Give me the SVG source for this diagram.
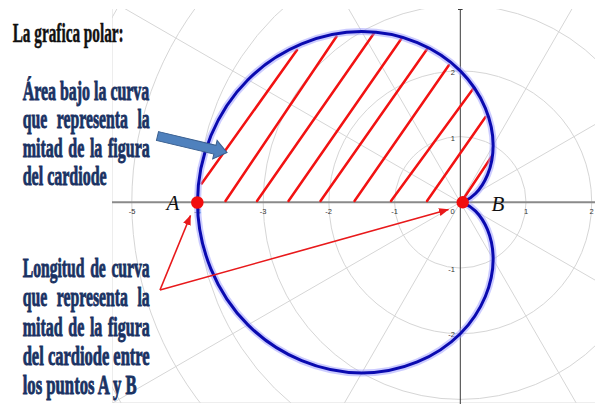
<svg xmlns="http://www.w3.org/2000/svg" width="595" height="406" viewBox="0 0 595 406">
<defs>
<clipPath id="plot"><rect x="112" y="9" width="483" height="394"/></clipPath>
<marker id="redHead" markerUnits="userSpaceOnUse" markerWidth="10" markerHeight="8" viewBox="0 0 10 8" refX="9.5" refY="4" orient="auto"><path d="M0,0 L10,4 L0,8 Z" fill="#e8191b"/></marker>
</defs>
<style>
.grid{fill:none;stroke:#d6d6d6;stroke-width:1}
.frame{stroke:#dcdcdc;stroke-width:1}
.tick{font-family:"Liberation Sans",Arial,sans-serif;font-size:7.5px;fill:#333}
.hatch line{stroke:#f21212;stroke-width:2.5;stroke-linecap:round}
.note{font-family:"Liberation Serif","Times New Roman",serif;font-weight:bold;font-size:27.5px;fill:#1a3263;stroke:#1a3263;stroke-width:0.9}
.title{font-family:"Liberation Serif","Times New Roman",serif;font-weight:bold;font-size:27px;fill:#111;stroke:#111;stroke-width:0.5}
.pt{fill:#f20d0d}
.ptlabel{font-family:"Liberation Serif","Times New Roman",serif;font-style:italic;font-size:21px;fill:#111}
.redarrow{stroke:#e8191b;stroke-width:1.6;fill:none}
</style>
<rect x="0" y="0" width="595" height="406" fill="#fff"/>

<g id="polar-grid" clip-path="url(#plot)">
  <g class="grid">
    <circle cx="460.3" cy="202.3" r="65.7"/>
    <circle cx="460.3" cy="202.3" r="131.4"/>
    <circle cx="460.3" cy="202.3" r="197.1"/>
    <circle cx="460.3" cy="202.3" r="262.8"/>
    <circle cx="460.3" cy="202.3" r="328.5"/>
    <circle cx="460.3" cy="202.3" r="394.2"/>
    <line x1="1066.5" y1="-147.7" x2="-145.9" y2="552.3"/>
    <line x1="810.3" y1="-403.9" x2="110.3" y2="808.5"/>
    <line x1="110.3" y1="-403.9" x2="810.3" y2="808.5"/>
    <line x1="-145.9" y1="-147.7" x2="1066.5" y2="552.3"/>
  </g>
  <line class="frame" x1="112" y1="9" x2="112" y2="403"/>
  <line class="frame" x1="112" y1="403" x2="595" y2="403"/>
</g>

<g id="axes">
  <line x1="112" y1="202.3" x2="595" y2="202.3" stroke="#8a8a8a" stroke-width="2"/>
  <line x1="460.3" y1="9" x2="460.3" y2="404" stroke="#3a3a3a" stroke-width="1"/>
  <line x1="458" y1="9.5" x2="462.6" y2="9.5" stroke="#3a3a3a" stroke-width="1"/>
  <g class="tick" text-anchor="middle">
    <text x="132" y="213.5">-5</text>
    <text x="197.5" y="213.5">-4</text>
    <text x="263" y="213.5">-3</text>
    <text x="328.7" y="213.5">-2</text>
    <text x="394.6" y="213.5">-1</text>
    <text x="452.5" y="213.5">0</text>
    <text x="526" y="213.5">1</text>
    <text x="591.5" y="213.5">2</text>
  </g>
  <g class="tick" text-anchor="end">
    <text x="455" y="75">2</text>
    <text x="455" y="140.5">1</text>
    <text x="455" y="272">-1</text>
    <text x="455" y="337">-2</text>
  </g>
</g>

<g id="area-hatch" class="hatch">
  <line x1="201.7" y1="183.5" x2="297" y2="50"/>
  <line x1="225.5" y1="201" x2="336.5" y2="36.5"/>
  <line x1="257" y1="201" x2="374.5" y2="32.5"/>
  <line x1="288.5" y1="201" x2="401.5" y2="38.5"/>
  <line x1="320.5" y1="201" x2="427.5" y2="48.5"/>
  <line x1="354.5" y1="201" x2="449" y2="65"/>
  <line x1="391" y1="201" x2="473" y2="89"/>
  <line x1="427" y1="201" x2="485.5" y2="117"/>
  <line x1="462" y1="201" x2="492" y2="156"/>
</g>

<g id="cardioid" fill="none">
  <path stroke="#9a9aff" stroke-opacity="0.5" stroke-width="7" d="M460.3,202.3 C460.3,202.3 467.15,201.89 475.55,193.5 C483.94,185.1 493.15,168.34 493.15,145.4 C493.15,122.47 483.23,93.83 460.3,70.9 C437.37,47.97 401.47,31.61 361.75,31.61 C322.03,31.61 279.28,48.37 247.95,79.7 C216.62,111.03 197.5,156.43 197.5,202.3 C197.5,248.17 216.62,293.57 247.95,324.9 C279.28,356.23 322.03,372.99 361.75,372.99 C401.47,372.99 437.37,356.63 460.3,333.7 C483.23,310.77 493.15,282.13 493.15,259.2 C493.15,236.26 483.94,219.5 475.55,211.1 C467.15,202.71 460.3,202.3 460.3,202.3"/>
  <path stroke="#0a0ab0" stroke-width="3" d="M460.3,202.3 C460.3,202.3 467.15,201.89 475.55,193.5 C483.94,185.1 493.15,168.34 493.15,145.4 C493.15,122.47 483.23,93.83 460.3,70.9 C437.37,47.97 401.47,31.61 361.75,31.61 C322.03,31.61 279.28,48.37 247.95,79.7 C216.62,111.03 197.5,156.43 197.5,202.3 C197.5,248.17 216.62,293.57 247.95,324.9 C279.28,356.23 322.03,372.99 361.75,372.99 C401.47,372.99 437.37,356.63 460.3,333.7 C483.23,310.77 493.15,282.13 493.15,259.2 C493.15,236.26 483.94,219.5 475.55,211.1 C467.15,202.71 460.3,202.3 460.3,202.3"/>
</g>

<g id="point-A">
  <circle class="pt" cx="197.3" cy="202.5" r="6.3"/>
  <text class="ptlabel" x="166.5" y="210">A</text>
</g>
<g id="point-B">
  <circle class="pt" cx="462.7" cy="202.3" r="6.2"/>
  <text class="ptlabel" x="491.5" y="211">B</text>
</g>

<g id="title">
  <text class="title" x="12.7" y="41.7" textLength="111" lengthAdjust="spacingAndGlyphs">La grafica polar:</text>
</g>

<g id="note-area">
  <text class="note" x="22.7" y="99.5" textLength="126.6" lengthAdjust="spacingAndGlyphs">Área bajo la curva</text>
  <text class="note" x="22.7" y="128" textLength="127" lengthAdjust="spacingAndGlyphs" word-spacing="10">que representa la</text>
  <text class="note" x="22.7" y="156.7" textLength="127" lengthAdjust="spacingAndGlyphs" word-spacing="3">mitad de la figura</text>
  <text class="note" x="22.7" y="185.3" textLength="84" lengthAdjust="spacingAndGlyphs">del cardiode</text>
</g>

<g id="note-length">
  <text class="note" x="22.7" y="277" textLength="127" lengthAdjust="spacingAndGlyphs" word-spacing="3">Longitud de curva</text>
  <text class="note" x="22.7" y="306.3" textLength="127" lengthAdjust="spacingAndGlyphs" word-spacing="10">que representa la</text>
  <text class="note" x="22.7" y="335.6" textLength="127" lengthAdjust="spacingAndGlyphs" word-spacing="3">mitad de la figura</text>
  <text class="note" x="22.7" y="365" textLength="127" lengthAdjust="spacingAndGlyphs">del cardiode entre</text>
  <text class="note" x="22.7" y="394" textLength="114" lengthAdjust="spacingAndGlyphs">los puntos A y B</text>
</g>

<g id="connectors">
  <polygon points="0,-4.5 59,-4.5 59,-9.5 71.5,0 59,9.5 59,4.5 0,4.5" transform="translate(157.5,136) rotate(13.4)" fill="#4f81bd" stroke="#3a5f8f" stroke-width="1"/>
  <line class="redarrow" x1="160" y1="290" x2="190.5" y2="215.5" marker-end="url(#redHead)"/>
  <line class="redarrow" x1="160" y1="290" x2="448.5" y2="209.5" marker-end="url(#redHead)"/>
</g>
</svg>
